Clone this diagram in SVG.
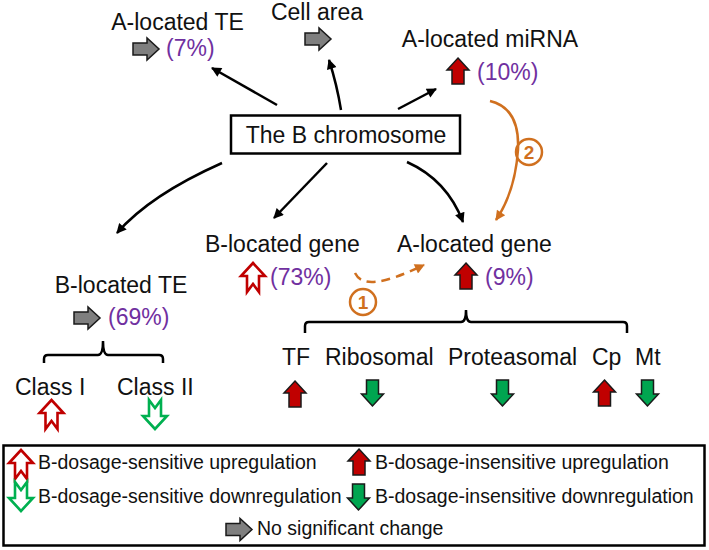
<svg xmlns="http://www.w3.org/2000/svg" width="709" height="550" viewBox="0 0 709 550">
<style>
text{font-family:"Liberation Sans",Arial,sans-serif;fill:#111}
.lb{font-size:23px}
.pc{font-size:23px;fill:#7030A0}
.lg{font-size:19.5px}
.num{font-size:19px;font-weight:bold;fill:#D0701F;text-anchor:middle}
.ln{fill:none;stroke:#000;stroke-width:2.5}
.or{fill:none;stroke:#D0701F;stroke-width:2.5}
.red{fill:#C00000;stroke:#1a1a1a;stroke-width:1.5;stroke-linejoin:miter}
.grn{fill:#00A550;stroke:#1a1a1a;stroke-width:1.5}
.gry{fill:#7F7F7F;stroke:#1a1a1a;stroke-width:1.5}
.sred{fill:#fff;stroke:#C00000;stroke-width:2.6}
.sgrn{fill:#fff;stroke:#00B050;stroke-width:2.6}
.br{fill:none;stroke:#000;stroke-width:2.5}
</style>
<defs>
<path id="up" d="M0,0 L11,12 L6,12 L6,26 L-6,26 L-6,12 L-11,12 Z"/>
<path id="sup" d="M0,0 L12,13 L6,13 L6,29 L0,21 L-6,29 L-6,13 L-12,13 Z"/>
<path id="rt" d="M0,-6 L14,-6 L14,-11 L26,0 L14,11 L14,6 L0,6 Z"/>
<marker id="ab" viewBox="0 0 10 10" refX="9" refY="5" markerWidth="12" markerHeight="10" markerUnits="userSpaceOnUse" orient="auto"><path d="M0,0 L10,5 L0,10 Z" fill="#000"/></marker>
<marker id="ao" viewBox="0 0 10 10" refX="9" refY="5" markerWidth="12" markerHeight="10" markerUnits="userSpaceOnUse" orient="auto"><path d="M0,0 L10,5 L0,10 Z" fill="#D0701F"/></marker>
</defs>

<g id="connectors">
<path class="ln" d="M277,105 L212,68" marker-end="url(#ab)"/>
<path class="ln" d="M341,110 Q337,85 329,60" marker-end="url(#ab)"/>
<path class="ln" d="M398,109 L436,89" marker-end="url(#ab)"/>
<path class="ln" d="M222,163 Q150,195 117,233" marker-end="url(#ab)"/>
<path class="ln" d="M327,163 L274,218" marker-end="url(#ab)"/>
<path class="ln" d="M407,162 Q447,180 463,222" marker-end="url(#ab)"/>
<path class="or" d="M490,101 Q520,108 518,150 Q515,192 496,220" marker-end="url(#ao)"/>
<path class="or" d="M355,273 C362,287 382,285 424,265" stroke-dasharray="9,6" marker-end="url(#ao)"/>
<circle cx="363" cy="302" r="13" class="or" stroke-width="2"/>
<text class="num" x="363" y="309">1</text>
<circle cx="529" cy="152" r="13" class="or" stroke-width="2"/>
<text class="num" x="529" y="159">2</text>
</g>

<g id="b-chromosome">
<rect x="231" y="115.5" width="229" height="38" fill="#fff" stroke="#000" stroke-width="2.5"/>
<text class="lb" x="346" y="143" text-anchor="middle">The B chromosome</text>
</g>

<g id="a-located-te">
<text class="lb" x="177.5" y="30" text-anchor="middle">A-located TE</text>
<use href="#rt" class="gry" transform="translate(133,49)"/>
<text class="pc" x="166" y="56">(7%)</text>
</g>

<g id="cell-area">
<text class="lb" x="317" y="20" text-anchor="middle">Cell area</text>
<use href="#rt" class="gry" transform="translate(305,39)"/>
</g>

<g id="a-located-mirna">
<text class="lb" x="490" y="47" text-anchor="middle">A-located miRNA</text>
<use href="#up" class="red" transform="translate(458,58)"/>
<text class="pc" x="477" y="80">(10%)</text>
</g>

<g id="b-located-gene">
<text class="lb" x="205" y="252">B-located gene</text>
<use href="#sup" class="sred" transform="translate(253,263)"/>
<text class="pc" x="270" y="285">(73%)</text>
</g>

<g id="a-located-gene">
<text class="lb" x="397" y="252">A-located gene</text>
<use href="#up" class="red" transform="translate(466,263)"/>
<text class="pc" x="485" y="285">(9%)</text>
<path class="br" d="M305,333 L305,326 Q305,322 309,322 L461,322 Q466,322 466,310 Q466,322 471,322 L623,322 Q627,322 627,326 L627,333"/>
</g>

<g id="tf">
<text class="lb" x="282" y="365">TF</text>
<use href="#up" class="red" transform="translate(295,381)"/>
</g>
<g id="ribosomal">
<text class="lb" x="325" y="365">Ribosomal</text>
<use href="#up" class="grn" transform="translate(372.5,406) rotate(180)"/>
</g>
<g id="proteasomal">
<text class="lb" x="448" y="365">Proteasomal</text>
<use href="#up" class="grn" transform="translate(502.5,406) rotate(180)"/>
</g>
<g id="cp">
<text class="lb" x="592" y="365">Cp</text>
<use href="#up" class="red" transform="translate(604.5,380)"/>
</g>
<g id="mt">
<text class="lb" x="635" y="365">Mt</text>
<use href="#up" class="grn" transform="translate(647.5,406) rotate(180)"/>
</g>

<g id="b-located-te">
<text class="lb" x="121" y="293" text-anchor="middle">B-located TE</text>
<use href="#rt" class="gry" transform="translate(74,318)"/>
<text class="pc" x="108" y="325">(69%)</text>
<path class="br" d="M44,363 L44,359 Q44,355 48,355 L98,355 Q103,355 103,341 Q103,355 108,355 L159,355 Q163,355 163,359 L163,363"/>
</g>

<g id="class-i">
<text class="lb" x="15" y="395">Class I</text>
<use href="#sup" class="sred" transform="translate(51.5,400)"/>
</g>
<g id="class-ii">
<text class="lb" x="117" y="395">Class II</text>
<use href="#sup" class="sgrn" transform="translate(155,429) rotate(180)"/>
</g>

<g id="legend">
<rect x="3.5" y="445.5" width="701" height="100" fill="#fff" stroke="#000" stroke-width="2.5"/>
<use href="#sup" class="sred" transform="translate(21,450)"/>
<text class="lg" x="38" y="469">B-dosage-sensitive upregulation</text>
<use href="#sup" class="sgrn" transform="translate(21,511) rotate(180)"/>
<text class="lg" x="38" y="503">B-dosage-sensitive downregulation</text>
<use href="#up" class="red" transform="translate(359,449)"/>
<text class="lg" x="375" y="469">B-dosage-insensitive upregulation</text>
<use href="#up" class="grn" transform="translate(358.5,510) rotate(180)"/>
<text class="lg" x="375" y="503">B-dosage-insensitive downregulation</text>
<use href="#rt" class="gry" transform="translate(226,529.5)"/>
<text class="lg" x="257" y="535">No significant change</text>
</g>
</svg>
